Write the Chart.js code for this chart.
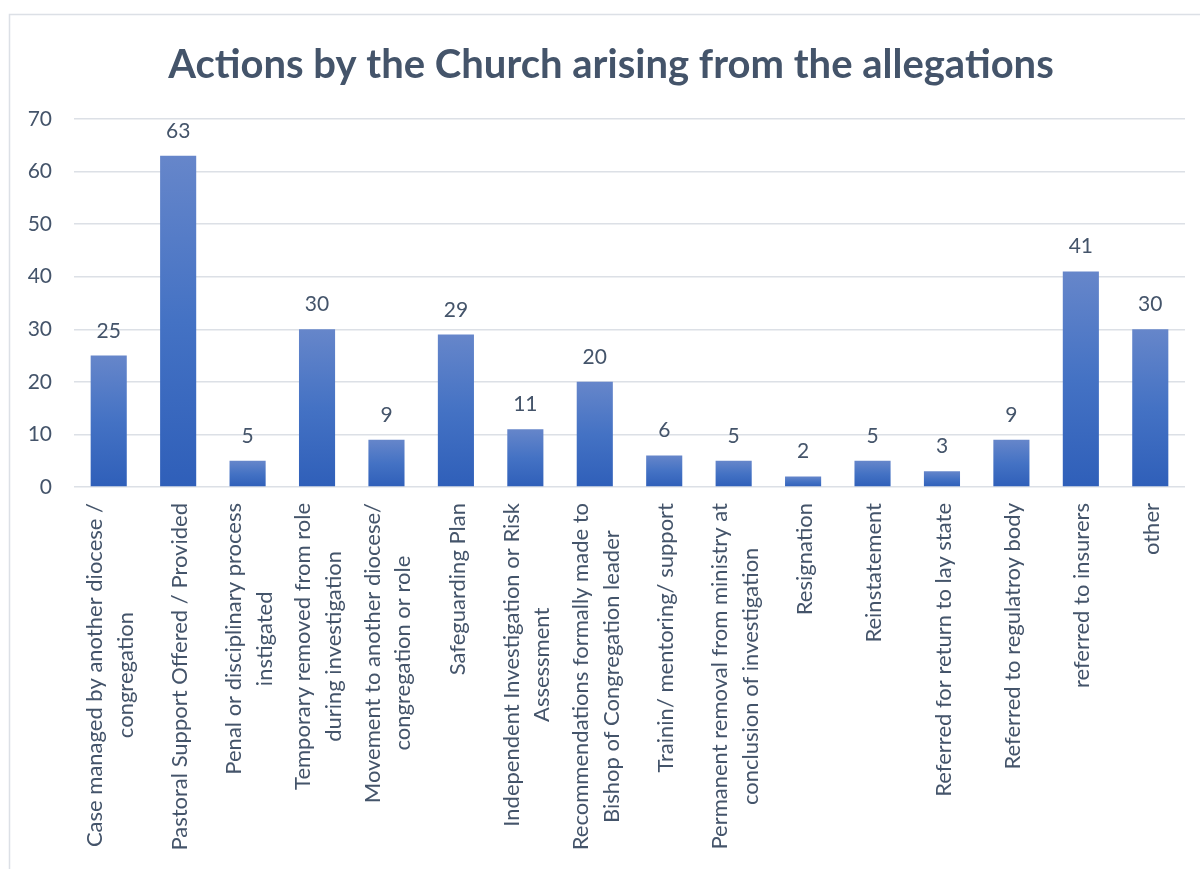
<!DOCTYPE html>
<html>
<head>
<meta charset="utf-8">
<title>Actions by the Church arising from the allegations</title>
<script src="https://cdn.jsdelivr.net/npm/chart.js@4.4.1/dist/chart.umd.min.js"></script>
<style>
    html, body { margin: 0; padding: 0; background: #ffffff; }
    #actionsChart { display: block; }
</style>
</head>
<body>
<canvas id="actionsChart" width="1200" height="869"></canvas>
<script>
// Chart data
const chartTitle = "Actions by the Church arising from the allegations";

const categories = [
    ["Case managed by another diocese /", "congregation"],
    ["Pastoral Support Offered / Provided"],
    ["Penal or disciplinary process", "instigated"],
    ["Temporary removed from role", "during investigation"],
    ["Movement to another diocese/", "congregation or role"],
    ["Safeguarding Plan"],
    ["Independent Investigation or Risk", "Assessment"],
    ["Recommendations formally made to", "Bishop of Congregation leader"],
    ["Trainin/ mentoring/ support"],
    ["Permanent removal from ministry at", "conclusion of investigation"],
    ["Resignation"],
    ["Reinstatement"],
    ["Referred for return to lay state"],
    ["Referred to regulatroy body"],
    ["referred to insurers"],
    ["other"]
];

const actionCounts = [25, 63, 5, 30, 9, 29, 11, 20, 6, 5, 2, 5, 3, 9, 41, 30];

const yTickValues = [0, 10, 20, 30, 40, 50, 60, 70];

// Styles
const TEXT_COLOR = "#44546A";
const GRID_COLOR = "#DCE0E6";
const FONT_FAMILY = "Lato, 'Open Sans', sans-serif";
const NUMBER_SIZE = 21;
const LABEL_SIZE = 22;
const LABEL_LINE_HEIGHT = 30.7;

// Each bar gets its own light-to-dark vertical gradient
function barGradient(context) {
    const chart = context.chart;
    if (!chart.chartArea || context.type !== "data") return "#4472C4";
    const yScale = chart.scales.y;
    const top = yScale.getPixelForValue(context.raw);
    const base = yScale.getPixelForValue(0);
    const g = chart.ctx.createLinearGradient(0, top, 0, base);
    g.addColorStop(0, "#6686CA");
    g.addColorStop(0.5, "#4472C4");
    g.addColorStop(1, "#2F5FB9");
    return g;
}

// Light frame round the chart
const framePlugin = {
    id: "frame",
    beforeDraw(chart) {
        const ctx = chart.ctx;
        ctx.save();
        ctx.strokeStyle = GRID_COLOR;
        ctx.lineWidth = 1.5;
        ctx.beginPath();
        ctx.moveTo(9.5, chart.height);
        ctx.lineTo(9.5, 14.5);
        ctx.lineTo(chart.width, 14.5);
        ctx.stroke();
        ctx.restore();
    }
};

// Title, centred over the plot
const titlePlugin = {
    id: "bigTitle",
    afterDraw(chart) {
        const ctx = chart.ctx;
        ctx.save();
        ctx.font = "bold 40px " + FONT_FAMILY;
        ctx.fillStyle = TEXT_COLOR;
        ctx.textAlign = "center";
        ctx.textBaseline = "alphabetic";
        ctx.fillText(chartTitle, 611, 78);
        ctx.restore();
    }
};

// Value above every bar
const valueLabelPlugin = {
    id: "valueLabels",
    afterDatasetsDraw(chart) {
        const ctx = chart.ctx;
        const meta = chart.getDatasetMeta(0);
        ctx.save();
        ctx.font = NUMBER_SIZE + "px " + FONT_FAMILY;
        ctx.fillStyle = TEXT_COLOR;
        ctx.textAlign = "center";
        ctx.textBaseline = "alphabetic";
        meta.data.forEach((bar, i) => {
            ctx.fillText(String(actionCounts[i]), bar.x, bar.y - 18);
        });
        ctx.restore();
    }
};

// Vertical category labels, lines centred on each other
const categoryLabelPlugin = {
    id: "categoryLabels",
    afterDraw(chart) {
        const ctx = chart.ctx;
        const xScale = chart.scales.x;
        const top = chart.chartArea.bottom + 16;
        ctx.save();
        ctx.font = LABEL_SIZE + "px " + FONT_FAMILY;
        ctx.fillStyle = TEXT_COLOR;
        ctx.textAlign = "center";
        ctx.textBaseline = "middle";
        categories.forEach((lines, i) => {
            const x = xScale.getPixelForValue(i) + 1.5;
            const w = Math.max(...lines.map(l => ctx.measureText(l).width));
            ctx.save();
            ctx.translate(x, top + w / 2);
            ctx.rotate(-Math.PI / 2);
            lines.forEach((line, j) => {
                ctx.fillText(line, 0, (j - (lines.length - 1) / 2) * LABEL_LINE_HEIGHT);
            });
            ctx.restore();
        });
        ctx.restore();
    }
};

new Chart(document.getElementById("actionsChart"), {
    type: "bar",
    data: {
        labels: categories,
        datasets: [{
            data: actionCounts,
            backgroundColor: barGradient,
            borderWidth: 0,
            barPercentage: 0.52,
            categoryPercentage: 1.0
        }]
    },
    options: {
        responsive: false,
        animation: false,
        layout: { padding: { top: 119, right: 15, bottom: 0, left: 0 } },
        plugins: {
            legend: { display: false },
            title: { display: false },
            tooltip: { enabled: false }
        },
        scales: {
            x: {
                grid: { display: false },
                border: { display: false },
                ticks: { display: false },
                afterFit(scale) { scale.height = 382; }
            },
            y: {
                min: 0,
                max: 70,
                afterBuildTicks(scale) {
                    scale.ticks = yTickValues.map(v => ({ value: v }));
                },
                afterFit(scale) { scale.width = 74; },
                grid: { color: GRID_COLOR, lineWidth: 1.5, drawTicks: false },
                border: { display: false },
                ticks: {
                    padding: 22,
                    color: TEXT_COLOR,
                    font: { family: FONT_FAMILY, size: NUMBER_SIZE }
                }
            }
        }
    },
    plugins: [framePlugin, titlePlugin, valueLabelPlugin, categoryLabelPlugin]
});
</script>
</body>
</html>
